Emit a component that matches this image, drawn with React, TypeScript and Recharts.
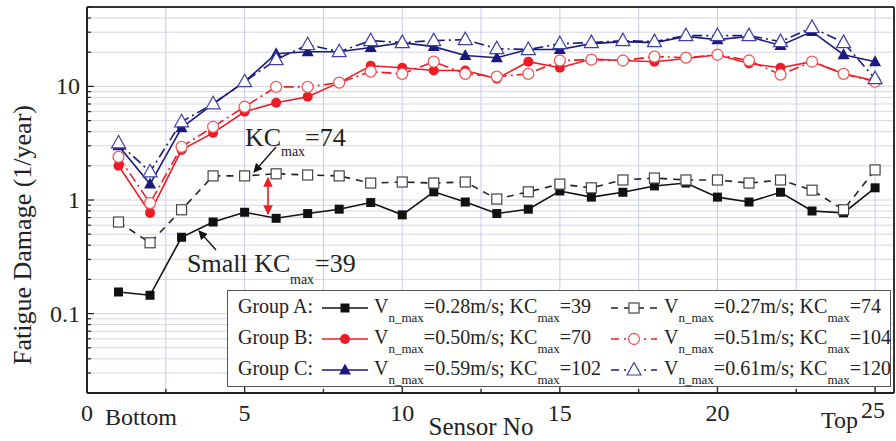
import React from "react";
import {
  LineChart,
  Line,
  XAxis,
  YAxis,
  CartesianGrid,
  ReferenceLine,
  Legend,
} from "recharts";

const FONT = '"Liberation Serif", "Times New Roman", serif';
const BLACK = "#111111";
const RED = "#ec1c24";
const RED_OPEN = "#f05a5a";
const NAVY = "#1a1a7c";
const NAVY_OPEN = "#4040a4";

const SENSORS = [1, 2, 3, 4, 5, 6, 7, 8, 9, 10, 11, 12, 13, 14, 15, 16, 17, 18, 19, 20, 21, 22, 23, 24, 25];

// Group A
const A_SOLID = [0.155, 0.145, 0.47, 0.64, 0.78, 0.69, 0.76, 0.83, 0.95, 0.74, 1.18, 0.96, 0.76, 0.83, 1.2, 1.06, 1.17, 1.33, 1.41, 1.06, 0.96, 1.17, 0.8, 0.77, 1.28];
const A_DASH = [0.64, 0.42, 0.82, 1.63, 1.63, 1.7, 1.66, 1.63, 1.41, 1.44, 1.41, 1.44, 1.02, 1.18, 1.38, 1.28, 1.5, 1.56, 1.5, 1.5, 1.41, 1.5, 1.22, 0.82, 1.84];
// Group B
const B_SOLID = [2.0, 0.77, 2.76, 3.9, 5.98, 7.18, 8.11, 10.8, 15.2, 14.6, 13.8, 13.8, 11.7, 16.5, 14.6, 17.4, 16.9, 16.5, 17.6, 19.0, 15.9, 14.6, 16.5, 12.9, 11.2];
const B_DASH = [2.4, 0.94, 2.94, 4.41, 6.62, 9.9, 9.9, 10.8, 13.5, 12.9, 16.5, 12.9, 12.2, 12.9, 16.9, 17.2, 16.9, 18.3, 17.9, 19.0, 16.9, 12.7, 16.5, 12.9, 11.0];
// Group C
const C_SOLID = [3.0, 1.38, 4.32, 7.03, 11.0, 19.4, 20.2, 20.2, 22.0, 24.3, 22.4, 18.7, 17.9, 21.1, 21.1, 23.8, 24.8, 24.3, 27.5, 25.8, 27.5, 22.9, 30.4, 19.0, 16.5];
const C_DASH = [3.18, 1.77, 4.88, 7.03, 11.0, 17.2, 23.3, 20.2, 25.3, 24.3, 25.3, 25.8, 21.5, 21.1, 23.8, 24.3, 25.3, 24.8, 28.0, 28.0, 28.0, 24.8, 33.0, 24.3, 11.7];

const X_TICKS = [0, 2.5, 5, 7.5, 10, 12.5, 15, 17.5, 20, 22.5, 25];
const Y_TICKS = [
  0.02, 0.03, 0.04, 0.05, 0.06, 0.07, 0.08, 0.09,
  0.1, 0.2, 0.3, 0.4, 0.5, 0.6, 0.7, 0.8, 0.9,
  1, 2, 3, 4, 5, 6, 7, 8, 9,
  10, 20, 30, 40, 50,
];
const Y_LABELS = [0.1, 1, 10];

const LEGEND_ROWS = [
  { group: "Group A:", left: ["0.28", "39"], right: ["0.27", "74"] },
  { group: "Group B:", left: ["0.50", "70"], right: ["0.51", "104"] },
  { group: "Group C:", left: ["0.59", "102"], right: ["0.61", "120"] },
];

const data = SENSORS.map((s, i) => ({
  s,
  a: A_SOLID[i],
  a2: A_DASH[i],
  b: B_SOLID[i],
  b2: B_DASH[i],
  c: C_SOLID[i],
  c2: C_DASH[i],
}));

type Kind = "sq" | "osq" | "ci" | "oci" | "tri" | "otri";

function Marker({ kind, cx, cy }: { kind: Kind; cx: number; cy: number }) {
  switch (kind) {
    case "sq":
      return <rect x={cx - 4.5} y={cy - 4.5} width={9} height={9} fill={BLACK} />;
    case "osq":
      return <rect x={cx - 5} y={cy - 5} width={10} height={10} fill="#fff" stroke="#444" strokeWidth={1.2} />;
    case "ci":
      return <circle cx={cx} cy={cy} r={5} fill={RED} />;
    case "oci":
      return <circle cx={cx} cy={cy} r={5.5} fill="#fff" stroke={RED_OPEN} strokeWidth={1.3} />;
    case "tri":
      return <polygon points={`${cx},${cy - 6.5} ${cx - 6},${cy + 4.5} ${cx + 6},${cy + 4.5}`} fill={NAVY} />;
    default:
      return (
        <polygon
          points={`${cx},${cy - 7.5} ${cx - 7},${cy + 5} ${cx + 7},${cy + 5}`}
          fill="#fff"
          stroke={NAVY_OPEN}
          strokeWidth={1.2}
        />
      );
  }
}

const makeDot = (kind: Kind, name: string) => (props: any) => {
  const { cx, cy, index } = props;
  if (cx == null || cy == null) return <g key={`${name}-${index}`} />;
  return (
    <g key={`${name}-${index}`}>
      <Marker kind={kind} cx={cx} cy={cy} />
    </g>
  );
};

function XTick(props: any) {
  const { x, y, payload } = props;
  const v = payload.value as number;
  const major = v % 5 === 0;
  const txt = { fontFamily: FONT, fontSize: 24, fill: "#222" };
  return (
    <g>
      <line x1={x} y1={y} x2={x} y2={y - (major ? 6 : 4)} stroke="#222" strokeWidth={1.3} />
      {major && v !== 25 && (
        <text x={x} y={y + 28} textAnchor="middle" {...txt}>
          {v}
        </text>
      )}
      {v === 0 && (
        <text x={x + 18} y={y + 32} {...txt}>
          Bottom
        </text>
      )}
      {v === 25 && (
        <>
          <text x={x - 17} y={y + 35} textAnchor="end" {...txt}>
            Top
          </text>
          <text x={x - 2} y={y + 25} textAnchor="middle" {...txt}>
            25
          </text>
        </>
      )}
    </g>
  );
}

function YTick(props: any) {
  const { x, y, payload } = props;
  const v = payload.value as number;
  const major = Y_LABELS.includes(v);
  return (
    <g>
      <line x1={x} y1={y} x2={x + (major ? 7 : 4)} y2={y} stroke="#222" strokeWidth={1.2} />
      {major && (
        <text x={x - 7} y={y + 8} textAnchor="end" fontFamily={FONT} fontSize={24} fill="#222">
          {v}
        </text>
      )}
    </g>
  );
}

function LegendIcon({ color, dash, kind }: { color: string; dash?: string; kind: Kind }) {
  return (
    <svg width={48} height={16} style={{ display: "inline-block", verticalAlign: "middle" }}>
      <line x1={1} y1={8} x2={47} y2={8} stroke={color} strokeWidth={1.6} strokeDasharray={dash} />
      <Marker kind={kind} cx={24} cy={8} />
    </svg>
  );
}

const sub = { fontSize: 13, position: "relative" as const, top: 9 };

function EntryText({ v, kc }: { v: string; kc: string }) {
  return (
    <span>
      V<span style={sub}>n_max</span>={v}m/s; KC<span style={sub}>max</span>={kc}
    </span>
  );
}

const ROW_STYLE: { color: string; kinds: [Kind, Kind]; open: string }[] = [
  { color: BLACK, kinds: ["sq", "osq"], open: "#222" },
  { color: RED, kinds: ["ci", "oci"], open: RED },
  { color: NAVY, kinds: ["tri", "otri"], open: NAVY },
];

function LegendBox() {
  return (
    <div
      style={{
        width: 664,
        height: 97,
        boxSizing: "border-box",
        border: "1px solid #555",
        background: "#fff",
        fontFamily: FONT,
        fontSize: 20,
        color: "#222",
        paddingTop: 0,
      }}
    >
      {LEGEND_ROWS.map((r, i) => (
        <div key={r.group} style={{ position: "relative", height: 31, lineHeight: "31px", whiteSpace: "nowrap" }}>
          <span style={{ position: "absolute", left: 10 }}>{r.group}</span>
          <span style={{ position: "absolute", left: 93 }}>
            <LegendIcon color={ROW_STYLE[i].color} kind={ROW_STYLE[i].kinds[0]} />
          </span>
          <span style={{ position: "absolute", left: 146 }}>
            <EntryText v={r.left[0]} kc={r.left[1]} />
          </span>
          <span style={{ position: "absolute", left: 382 }}>
            <LegendIcon color={ROW_STYLE[i].open} dash={i === 0 ? "7 6" : "8 5 2 5"} kind={ROW_STYLE[i].kinds[1]} />
          </span>
          <span style={{ position: "absolute", left: 436 }}>
            <EntryText v={r.right[0]} kc={r.right[1]} />
          </span>
        </div>
      ))}
    </div>
  );
}

function Annotations() {
  const t = { fontFamily: FONT, fill: "#222" };
  return (
    <svg
      width={896}
      height={441}
      style={{ position: "absolute", left: 0, top: 0, pointerEvents: "none" }}
    >
      <defs>
        <marker id="ah" viewBox="0 0 10 10" refX="9" refY="5" markerWidth="7" markerHeight="7" orient="auto">
          <path d="M0,0 L10,5 L0,10 z" fill="#111" />
        </marker>
        <marker id="ahr" viewBox="0 0 10 10" refX="9" refY="5" markerWidth="6" markerHeight="6" orient="auto-start-reverse">
          <path d="M0,0 L10,5 L0,10 z" fill={RED} />
        </marker>
      </defs>
      <text x={25} y={235} transform="rotate(-90 25 235)" textAnchor="middle" dominantBaseline="middle" fontSize={26} {...t}>
        Fatigue Damage (1/year)
      </text>
      <text x={481} y={435} textAnchor="middle" fontSize={25} {...t}>
        Sensor No
      </text>

      <text x={245} y={146} fontSize={26} {...t}>KC</text>
      <text x={281} y={156} fontSize={14} {...t}>max</text>
      <text x={305} y={146} fontSize={26} {...t}>=74</text>
      <line x1={276} y1={147} x2={254} y2={172} stroke="#111" strokeWidth={1.3} markerEnd="url(#ah)" />

      <line x1={268} y1={178} x2={268} y2={214} stroke={RED} strokeWidth={1.6} markerStart="url(#ahr)" markerEnd="url(#ahr)" />

      <text x={187} y={272} fontSize={26} {...t}>Small KC</text>
      <text x={290} y={284} fontSize={14} {...t}>max</text>
      <text x={315} y={272} fontSize={26} {...t}>=39</text>
      <line x1={216} y1={250} x2={199} y2={231} stroke="#111" strokeWidth={1.3} markerEnd="url(#ah)" />
    </svg>
  );
}

export default function App() {
  return (
    <div style={{ position: "relative", width: 896, height: 441, background: "#fff" }}>
      <style>{`body{margin:0;background:#fff}`}</style>
      <LineChart width={896} height={441} data={data} margin={{ top: 7, right: 2, bottom: 18, left: 0 }}>
        <CartesianGrid stroke="#d6d6e6" strokeWidth={1} horizontal vertical={false} />
        <CartesianGrid stroke="#c8c8f0" strokeWidth={1} horizontal={false} vertical />
        <XAxis
          dataKey="s"
          type="number"
          domain={[0, 25.6]}
          ticks={X_TICKS}
          allowDataOverflow
          interval={0}
          height={30}
          tickSize={0}
          tickMargin={0}
          tickLine={false}
          axisLine={{ stroke: "#222", strokeWidth: 2 }}
          tick={<XTick />}
        />
        <YAxis
          scale="log"
          type="number"
          domain={[0.02, 50]}
          ticks={Y_TICKS}
          allowDataOverflow
          interval={0}
          width={87}
          tickSize={0}
          tickMargin={0}
          tickLine={false}
          axisLine={{ stroke: "#222", strokeWidth: 2 }}
          tick={<YTick />}
        />
        <ReferenceLine y={50} stroke="#333" strokeWidth={2} />
        <ReferenceLine x={25.6} stroke="#333" strokeWidth={2} />

        <Line type="linear" dataKey="a" stroke={BLACK} strokeWidth={1.6} dot={makeDot("sq", "a")} isAnimationActive={false} />
        <Line type="linear" dataKey="a2" stroke="#222" strokeWidth={1.6} strokeDasharray="7 6" dot={makeDot("osq", "a2")} isAnimationActive={false} />
        <Line type="linear" dataKey="b" stroke={RED} strokeWidth={1.6} dot={makeDot("ci", "b")} isAnimationActive={false} />
        <Line type="linear" dataKey="b2" stroke={RED} strokeWidth={1.6} strokeDasharray="10 4 2 4" dot={makeDot("oci", "b2")} isAnimationActive={false} />
        <Line type="linear" dataKey="c" stroke={NAVY} strokeWidth={1.6} dot={makeDot("tri", "c")} isAnimationActive={false} />
        <Line type="linear" dataKey="c2" stroke={NAVY} strokeWidth={1.6} strokeDasharray="10 4 2 4" dot={makeDot("otri", "c2")} isAnimationActive={false} />

        <Legend
          layout="vertical"
          align="center"
          verticalAlign="middle"
          wrapperStyle={{ left: 227, top: 290, width: 664, height: 97 }}
          content={() => <LegendBox />}
        />
      </LineChart>
      <Annotations />
    </div>
  );
}
